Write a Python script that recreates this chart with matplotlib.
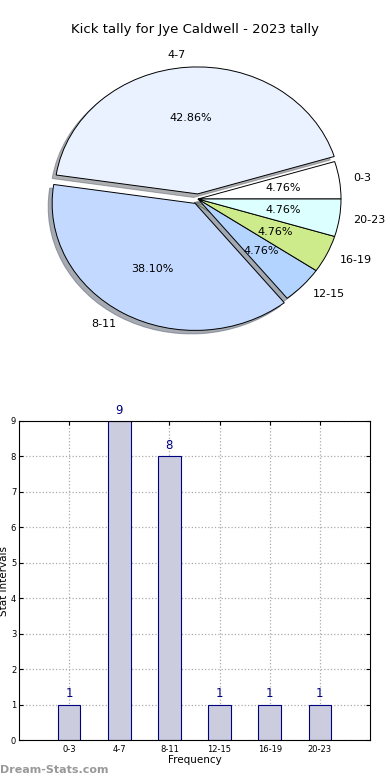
import matplotlib
matplotlib.use("Agg")
import numpy as np
from matplotlib import pyplot as plt

title = "Kick tally for Jye Caldwell - 2023 tally"
pie_labels = ["0-3", "4-7", "8-11", "12-15", "16-19", "20-23"]
pie_counts = [1, 9, 8, 1, 1, 1]
pie_colors = ["#ffffff", "#eaf1ff", "#c3d9ff", "#b3d4ff", "#cdeb8b", "#dcffff"]
pie_explode = [0.0, 0.04, 0.04, 0.0, 0.0, 0.0]

bar_labels = ["0-3", "4-7", "8-11", "12-15", "16-19", "20-23"]
bar_counts = [1, 9, 8, 1, 1, 1]

W, H = 390, 780
fig = plt.figure(figsize=(W / 100, H / 100), dpi=100)


def px_axes(left, top, width, height):
    return fig.add_axes([left / W, 1 - (top + height) / H, width / W, height / H])


# pie (drawn slightly squashed, like the original)
cx, cy, rx, ry = 198, 199, 143, 127
ax_pie = px_axes(0, 40, W, 310)
wedges, texts, autotexts = ax_pie.pie(
    pie_counts,
    labels=pie_labels,
    colors=pie_colors,
    explode=pie_explode,
    autopct="%1.2f%%",
    shadow={"ox": -0.02, "oy": -0.02, "shade": 0.6},
    startangle=0,
    pctdistance=0.6,
    labeldistance=1.1,
    wedgeprops={"edgecolor": "black", "linewidth": 0.7},
    textprops={"fontsize": 8},
)
ax_pie.set_aspect("auto")
ax_pie.set_xlim(-cx / rx, (W - cx) / rx)
ax_pie.set_ylim(-(40 + 310 - cy) / ry, (cy - 40) / ry)
ax_pie.axis("off")

fig.text(0.5, 1 - 30 / H, title, ha="center", va="center", fontsize=9.5)

# bars
ax_bar = px_axes(19, 421, 351, 319)
x = np.arange(len(bar_labels))
ax_bar.bar(x, bar_counts, width=0.45, color="#ccccdf",
           edgecolor="#000080", linewidth=0.8, zorder=2)
for xi, val in zip(x, bar_counts):
    ax_bar.text(xi, val + 0.12, str(val), ha="center", va="bottom",
                color="#000080", fontsize=8.5)
ax_bar.set_xlim(-1, 6)
ax_bar.set_ylim(0, 9)
ax_bar.set_xticks(x)
ax_bar.set_xticklabels(bar_labels, fontsize=6)
ax_bar.set_yticks(range(0, 10))
ax_bar.tick_params(axis="y", labelsize=6, pad=2)
ax_bar.tick_params(axis="both", direction="in", top=True, right=True, length=3)
ax_bar.grid(True, linestyle=":", color="#aaaaaa", linewidth=0.9, zorder=0)
ax_bar.set_axisbelow(True)
ax_bar.set_xlabel("Frequency", fontsize=7.5, labelpad=1)
ax_bar.set_ylabel("Stat Intervals", fontsize=7.5, labelpad=1)

fig.text(0.0, 1 - 770 / H, "Dream-Stats.com", ha="left", va="center",
         fontsize=8, color="#999999", fontweight="bold")

fig.savefig("out.png", dpi=100)
